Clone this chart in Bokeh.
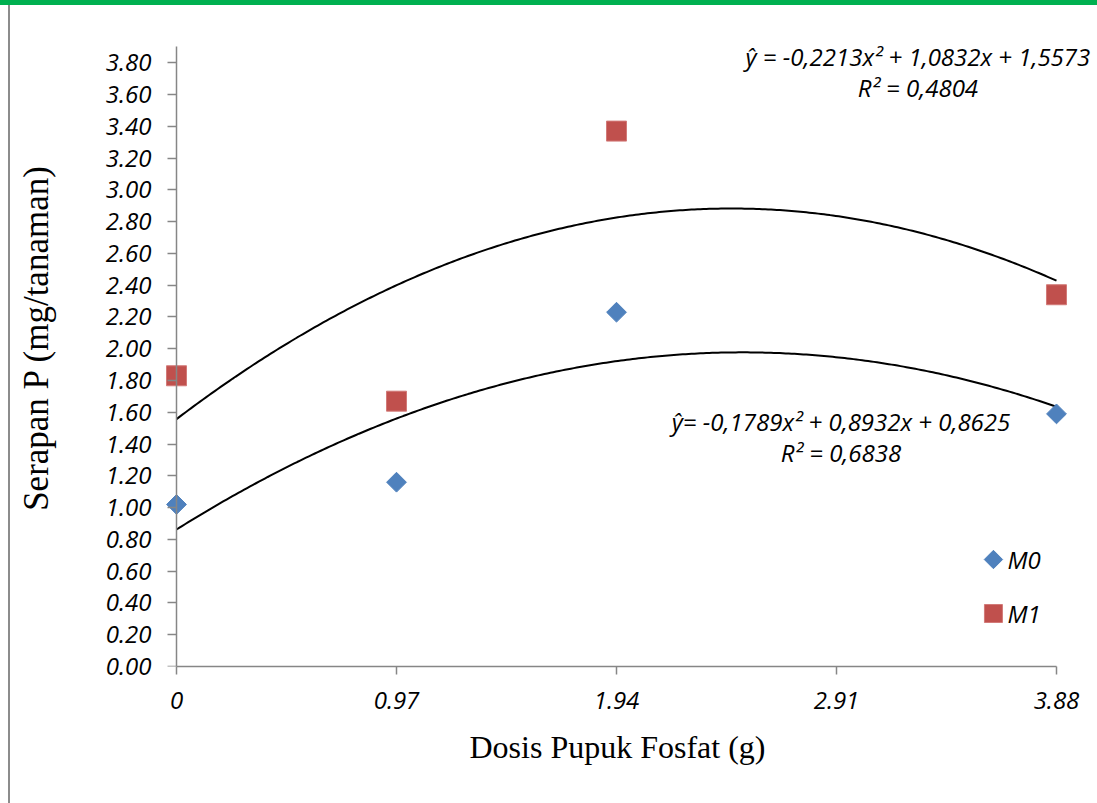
import numpy as np
from bokeh.plotting import figure
from bokeh.models import (FixedTicker, Label, ColumnDataSource, LinearAxis,
                          NumeralTickFormatter, Range1d)
from bokeh.embed import file_html
from bokeh.resources import INLINE

# ---------------- data ----------------
x_ticks = [0, 0.97, 1.94, 2.91, 3.88]
x_tick_labels = ["0", "0.97", "1.94", "2.91", "3.88"]
y_ticks = [0.0, 0.2, 0.4, 0.6, 0.8, 1.0, 1.2, 1.4, 1.6, 1.8, 2.0,
           2.2, 2.4, 2.6, 2.8, 3.0, 3.2, 3.4, 3.6, 3.8]

dose = [0, 0.97, 1.94, 3.88]
m0_values = [1.02, 1.16, 2.23, 1.59]
m1_values = [1.83, 1.67, 3.37, 2.34]

# quadratic trend coefficients (a, b, c) shown on the chart
m0_coef = [-0.1789, 0.8932, 0.8625]
m1_coef = [-0.2213, 1.0832, 1.5573]
m0_eq = "ŷ= -0,1789x² + 0,8932x + 0,8625"
m0_r2 = "R² = 0,6838"
m1_eq = "ŷ = -0,2213x² + 1,0832x + 1,5573"
m1_r2 = "R² = 0,4804"

series_names = ["M0", "M1"]
x_title = "Dosis Pupuk Fosfat (g)"
y_title = "Serapan P  (mg/tanaman)"

# ---------------- style ----------------
BLUE = "#4F81BD"
RED = "#C0504D"
AXIS = "#868686"
TICK_FONT = "Open Sans"
TITLE_FONT = "Liberation Serif"
TXT = "24px"

p = figure(width=1097, height=803, output_backend="svg", toolbar_location=None,
           x_range=Range1d(-0.172, 4.0608), y_range=Range1d(0, 4.1921),
           min_border_left=137, min_border_right=0,
           min_border_top=0, min_border_bottom=137)
p.outline_line_color = None
p.xgrid.visible = False
p.ygrid.visible = False
p.background_fill_color = None
p.border_fill_color = None
p.styles = {
    "background": ("linear-gradient(#00B050, #00B050) 0 0 / 100% 5px no-repeat, "
                   "linear-gradient(#8C8C8C, #8C8C8C) 8px 5px / 2px 100% no-repeat, "
                   "white"),
}

def style_labels(ax):
    ax.major_label_text_font = TICK_FONT
    ax.major_label_text_font_style = "italic"
    ax.major_label_text_font_size = TXT
    ax.major_label_text_color = "black"
    ax.axis_label_text_font = TITLE_FONT
    ax.axis_label_text_font_style = "normal"
    ax.axis_label_text_color = "black"
    ax.minor_tick_line_color = None

# x axis
xa = p.xaxis[0]
style_labels(xa)
xa.ticker = FixedTicker(ticks=x_ticks)
xa.major_label_overrides = dict(zip(x_ticks, x_tick_labels))
xa.bounds = (0, 3.88)
xa.axis_line_color = AXIS
xa.axis_line_width = 1.5
xa.major_tick_line_color = AXIS
xa.major_tick_line_width = 1.5
xa.major_tick_in = 0
xa.major_tick_out = 8
xa.major_label_standoff = 17
xa.axis_label = x_title
xa.axis_label_text_font_size = "32px"
xa.axis_label_standoff = 17

# y axis: tick labels + title (line/ticks drawn by the axis at x = 0 below)
ya = p.yaxis[0]
style_labels(ya)
ya.ticker = FixedTicker(ticks=y_ticks)
ya.formatter = NumeralTickFormatter(format="0.00")
ya.axis_line_color = None
ya.major_tick_line_color = None
ya.major_tick_in = 0
ya.major_tick_out = 0
ya.major_label_standoff = -14
ya.axis_label = y_title
ya.axis_label_text_font_size = "35px"
ya.axis_label_standoff = 47

# y axis line and tick marks at x = 0 (ticks given as unlabelled minor ticks)
ya2 = LinearAxis(ticker=FixedTicker(ticks=[], minor_ticks=y_ticks),
                 bounds=(0, 3.9), fixed_location=0,
                 axis_line_color=AXIS, axis_line_width=1.5,
                 major_tick_line_color=None,
                 minor_tick_line_color=AXIS, minor_tick_line_width=1.5,
                 minor_tick_in=0, minor_tick_out=9)
p.add_layout(ya2, "left")

# trend curves
xs = np.linspace(0, 3.88, 300)
p.line(xs, np.polyval(m1_coef, xs), line_color="black", line_width=2)
p.line(xs, np.polyval(m0_coef, xs), line_color="black", line_width=2)

# points
src0 = ColumnDataSource(dict(x=dose, y=m0_values))
src1 = ColumnDataSource(dict(x=dose, y=m1_values))
p.scatter("x", "y", source=src0, marker="square", size=14, angle=np.pi / 4,
          fill_color=BLUE, line_color=BLUE, line_width=1)
p.scatter("x", "y", source=src1, marker="square", size=20,
          fill_color=RED, line_color="#D27A78", line_width=1)

# legend (drawn as keys + labels so the diamond keeps its shape)
LEG_X, LEG_TXT_X = 3.602, 3.664
LEG_Y = [0.6735, 0.3336]
p.scatter([LEG_X], [LEG_Y[0]], marker="square", size=13, angle=np.pi / 4,
          fill_color=BLUE, line_color=BLUE, line_width=1)
p.scatter([LEG_X], [LEG_Y[1]], marker="square", size=18,
          fill_color=RED, line_color="#D27A78", line_width=1)

def text_label(x, y, text, align="center"):
    p.add_layout(Label(x=x, y=y, text=text, text_font=TICK_FONT,
                       text_font_style="italic", text_font_size=TXT,
                       text_color="black", text_align=align,
                       text_baseline="middle"))

for name, ly in zip(series_names, LEG_Y):
    text_label(LEG_TXT_X, ly, name, align="left")

# equations
text_label(3.269, 3.8396, m1_eq)
text_label(3.269, 3.644, m1_r2)
text_label(2.93, 1.5421, m0_eq)
text_label(2.93, 1.347, m0_r2)

open("out.html", "w").write(file_html(p, INLINE))
